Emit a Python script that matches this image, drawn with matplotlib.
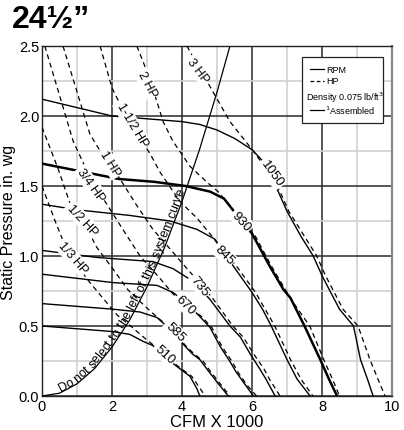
import numpy as np
import matplotlib
matplotlib.use("Agg")
import matplotlib.pyplot as plt
from matplotlib import font_manager as fm
from matplotlib.patches import Rectangle

# RPM curves (CFM x 1000, static pressure in. wg)
rpm_labels = ["510", "585", "670", "735", "845", "930", "1050"]
rpm_510_x = [0, 2.03, 2.51, 2.89, 3.17, 3.5, 3.86, 4.23, 4.43, 4.51]
rpm_510_y = [0.5, 0.46, 0.44, 0.39, 0.36, 0.28, 0.21, 0.14, 0.05, 0]
rpm_585_x = [0, 2.03, 2.8, 3.29, 3.55, 3.75, 4.07, 4.3, 4.51, 4.75, 5.0, 5.32]
rpm_585_y = [0.66, 0.62, 0.6, 0.56, 0.5, 0.45, 0.36, 0.3, 0.26, 0.18, 0.1, 0]
rpm_670_x = [0, 2.03, 3.29, 3.74, 4.1, 4.5, 4.8, 5.1, 5.36, 5.55, 5.75, 6.04]
rpm_670_y = [0.87, 0.81, 0.79, 0.74, 0.67, 0.57, 0.49, 0.35, 0.25, 0.17, 0.1, 0]
rpm_735_x = [0, 1.56, 3.17, 3.74, 4.31, 4.8, 5.37, 5.67, 5.95, 6.23, 6.4, 6.66]
rpm_735_y = [1.04, 0.99, 0.96, 0.91, 0.82, 0.69, 0.5, 0.42, 0.3, 0.19, 0.12, 0]
rpm_845_x = [0, 1.0, 2.5, 3.66, 4.43, 4.94, 5.46, 6.0, 6.3, 6.55, 7.0, 7.29, 7.66]
rpm_845_y = [1.37, 1.33, 1.29, 1.25, 1.19, 1.12, 0.93, 0.74, 0.62, 0.5, 0.26, 0.12, 0]
rpm_930_x = [0, 1.0, 2.2, 3.2, 4.1, 4.8, 5.2, 5.45, 6.0, 6.5, 6.9, 7.1, 7.5, 7.95, 8.2, 8.43]
rpm_930_y = [1.66, 1.61, 1.55, 1.53, 1.5, 1.46, 1.41, 1.33, 1.16, 0.93, 0.76, 0.7, 0.5, 0.26, 0.12, 0]
rpm_1050_x = [0, 1.0, 2.0, 3.0, 4.0, 4.5, 5.0, 5.5, 6.0, 6.3, 6.75, 7.0, 7.4, 7.75, 8.0, 8.5, 8.9, 9.1, 9.3, 9.46]
rpm_1050_y = [2.12, 2.06, 2.0, 1.98, 1.96, 1.94, 1.9, 1.84, 1.76, 1.68, 1.46, 1.32, 1.14, 1.0, 0.86, 0.62, 0.5, 0.26, 0.12, 0]

# HP curves
hp_labels = ["1/3 HP", "1/2 HP", "3/4 HP", "1 HP", "1-1/2 HP", "2 HP", "3 HP"]
hp_13_x = [0.0, 0.39, 0.68, 0.89, 1.37, 1.77, 2.14, 2.58, 2.9, 3.2, 3.55, 3.9, 4.28, 4.5, 4.66]
hp_13_y = [1.5, 1.24, 1.06, 0.97, 0.81, 0.69, 0.58, 0.49, 0.42, 0.36, 0.28, 0.21, 0.14, 0.06, 0]
hp_12_x = [0.0, 0.45, 0.78, 1.15, 1.57, 2.02, 2.45, 2.95, 3.3, 3.6, 3.8, 4.1, 4.35, 4.6, 4.8, 5.05, 5.37]
hp_12_y = [1.92, 1.63, 1.39, 1.26, 1.06, 0.91, 0.76, 0.64, 0.56, 0.5, 0.45, 0.36, 0.3, 0.25, 0.18, 0.1, 0]
hp_34_x = [0.08, 0.51, 0.89, 1.17, 1.45, 1.8, 2.31, 2.8, 3.37, 3.74, 4.1, 4.55, 4.85, 5.15, 5.42, 5.6, 5.85, 6.13]
hp_34_y = [2.5, 2.14, 1.82, 1.67, 1.52, 1.39, 1.19, 1.0, 0.84, 0.73, 0.65, 0.57, 0.49, 0.35, 0.25, 0.17, 0.08, 0]
hp_1_x = [0.6, 1.37, 1.71, 2.0, 2.23, 2.71, 3.17, 3.66, 4.14, 4.5, 4.9, 5.45, 5.75, 6.05, 6.35, 6.5, 6.8]
hp_1_y = [2.5, 1.87, 1.73, 1.64, 1.55, 1.36, 1.19, 1.05, 0.91, 0.81, 0.69, 0.5, 0.42, 0.3, 0.19, 0.12, 0]
hp_112_x = [1.66, 2.0, 2.5, 3.09, 3.37, 3.94, 4.43, 4.86, 5.1, 5.55, 6.1, 6.65, 7.1, 7.4, 7.74]
hp_112_y = [2.5, 2.2, 1.95, 1.73, 1.6, 1.39, 1.27, 1.14, 1.06, 0.93, 0.74, 0.5, 0.26, 0.12, 0]
hp_2_x = [2.71, 3.09, 3.46, 3.74, 4.23, 4.7, 5.03, 5.37, 5.6, 6.1, 6.55, 7.0, 7.2, 7.65, 8.05, 8.3, 8.5]
hp_2_y = [2.5, 2.26, 1.96, 1.82, 1.64, 1.53, 1.46, 1.36, 1.28, 1.14, 0.93, 0.74, 0.66, 0.5, 0.26, 0.12, 0]
hp_3_x = [4.14, 4.8, 5.37, 5.94, 6.3, 6.8, 7.05, 7.85, 8.1, 8.6, 9.03, 9.37, 9.6, 9.8]
hp_3_y = [2.5, 2.21, 1.96, 1.78, 1.66, 1.46, 1.32, 1.0, 0.86, 0.62, 0.5, 0.26, 0.12, 0]

# system curve
sys_x = [0, 0.5, 1.0, 1.5, 2.0, 2.5, 3.0, 3.5, 4.0, 4.5, 5.0, 5.37]
sys_y = [0, 0.02, 0.087, 0.195, 0.35, 0.54, 0.78, 1.06, 1.39, 1.76, 2.17, 2.5]
sys_text = "Do not select to the left of this system curve"

# label anchors (x, y, rotation)
rpm_label_pos = [(3.51, 0.30, -42), (3.80, 0.46, -45), (4.10, 0.65, -45), (4.51, 0.79, -52),
                 (5.20, 1.01, -45), (5.70, 1.25, -48), (6.56, 1.59, -54)]
hp_label_pos = [(0.87, 0.99, -49), (1.15, 1.26, -47), (1.40, 1.51, -54), (1.94, 1.66, -58),
                (2.57, 1.94, -59), (3.00, 2.23, -62), (4.45, 2.33, -53)]

names = {f.name for f in fm.fontManager.ttflist}
base = "Liberation Sans"
narrow = "Liberation Sans Narrow" if "Liberation Sans Narrow" in names else base
plt.rcParams["font.family"] = [base, "DejaVu Sans"]

fig = plt.figure(figsize=(4.04, 4.31), dpi=100)
ax = fig.add_axes([42 / 404, 1 - 397 / 431, 350 / 404, 350 / 431])
ax.set_xlim(0, 10)
ax.set_ylim(0, 2.5)

ax.set_xticks([0, 2, 4, 6, 8, 10])
ax.set_xticks([1, 3, 5, 7, 9], minor=True)
ax.set_yticks([0, 0.5, 1.0, 1.5, 2.0, 2.5])
ax.set_yticks([0.25, 0.75, 1.25, 1.75, 2.25], minor=True)
ax.set_yticklabels(["0.0", "0.5", "1.0", "1.5", "2.0", "2.5"], family=narrow, fontsize=10.5)
ax.set_xticklabels(["0", "2", "4", "6", "8", "10"], family=narrow, fontsize=10.5)
ax.tick_params(which="both", length=0, pad=2)
ax.grid(which="major", color="#2a2a2a", lw=1.1, zorder=1)
ax.grid(which="minor", color="#cfcfcf", lw=1.2, zorder=0)
ax.set_axisbelow(True)
for s in ax.spines.values():
    s.set_color("#222222")
    s.set_linewidth(1.0)
ax.spines["right"].set_color("#888888")
ax.spines["right"].set_linewidth(1.6)

ax.set_xlabel("CFM X 1000", family=narrow, fontsize=12, labelpad=1)
ax.set_ylabel("Static Pressure in. wg", fontsize=11.5, labelpad=2)

fig.text(12 / 404, 1 - 5 / 431, "24½”", fontsize=23, fontweight="bold", va="top")

rpm_curves = [(rpm_510_x, rpm_510_y), (rpm_585_x, rpm_585_y), (rpm_670_x, rpm_670_y),
              (rpm_735_x, rpm_735_y), (rpm_845_x, rpm_845_y), (rpm_930_x, rpm_930_y),
              (rpm_1050_x, rpm_1050_y)]
hp_curves = [(hp_13_x, hp_13_y), (hp_12_x, hp_12_y), (hp_34_x, hp_34_y), (hp_1_x, hp_1_y),
             (hp_112_x, hp_112_y), (hp_2_x, hp_2_y), (hp_3_x, hp_3_y)]

for (x, y) in hp_curves:
    ax.plot(x, y, color="black", lw=0.9, ls=(0, (4, 3)), zorder=3)
for lab, (x, y) in zip(rpm_labels, rpm_curves):
    ax.plot(x, y, color="black", lw=1.8 if lab == "930" else 1.0, zorder=4)
ax.plot(sys_x, sys_y, color="black", lw=0.9, zorder=4)

box = dict(boxstyle="square,pad=0.12", fc="white", ec="none")
for lab, (x, y, r) in zip(rpm_labels, rpm_label_pos):
    ax.text(x, y, lab, rotation=r, ha="center", va="center", fontsize=9.5,
            rotation_mode="anchor", bbox=box, zorder=6)
for lab, (x, y, r) in zip(hp_labels, hp_label_pos):
    ax.text(x, y, lab, rotation=r, ha="center", va="center", fontsize=9,
            rotation_mode="anchor", bbox=box, zorder=6)

# text along the system curve
fig.canvas.draw()
renderer = fig.canvas.get_renderer()
fp = fm.FontProperties(family=base, size=9)
xs = np.linspace(0, 5.37, 400)
pts = ax.transData.transform(np.column_stack([xs, np.interp(xs, sys_x, sys_y)]))
seg = np.hypot(np.diff(pts[:, 0]), np.diff(pts[:, 1]))
arc = np.concatenate([[0], np.cumsum(seg)])
s0 = np.interp(0.55, xs, arc)
ref_w = renderer.get_text_width_height_descent("I", fp, ismath=False)[0]
inv = ax.transData.inverted()
for i, ch in enumerate(sys_text):
    if ch == " ":
        continue
    off = renderer.get_text_width_height_descent(sys_text[:i] + "I", fp, ismath=False)[0] - ref_w
    s = s0 + off
    px = np.interp(s, arc, pts[:, 0])
    py = np.interp(s, arc, pts[:, 1])
    k = np.searchsorted(arc, s)
    k = min(max(k, 1), len(arc) - 1)
    dx, dy = pts[k] - pts[k - 1]
    ang = np.degrees(np.arctan2(dy, dx))
    nx, ny = -dy / np.hypot(dx, dy), dx / np.hypot(dx, dy)
    dxy = inv.transform([[px + nx * 1.5, py + ny * 1.5]])[0]
    ax.text(dxy[0], dxy[1], ch, fontproperties=fp, rotation=ang, rotation_mode="anchor",
            ha="left", va="baseline", zorder=5)

# legend box
ax.add_patch(Rectangle((7.43, 1.95), 2.3, 0.47, fc="white", ec="#222222", lw=0.9, zorder=7))
ax.plot([7.66, 8.05], [2.335, 2.335], color="black", lw=0.9, zorder=8)
ax.text(8.12, 2.335, "RPM", fontsize=6.5, family=narrow, va="center", zorder=8)
ax.plot([7.66, 8.05], [2.25, 2.25], color="black", lw=0.9, ls=(0, (3, 2)), zorder=8)
ax.text(8.12, 2.25, "HP", fontsize=6.5, family=narrow, va="center", zorder=8)
ax.text(7.55, 2.14, "Density 0.075 lb/ft$^3$", fontsize=6.5, family=narrow, va="center", zorder=8)
ax.plot([7.66, 8.05], [2.045, 2.045], color="black", lw=0.9, zorder=8)
ax.text(8.08, 2.045, "$^1$Assembled", fontsize=6.5, family=narrow, va="center", zorder=8)

fig.savefig("out.png", dpi=100)
